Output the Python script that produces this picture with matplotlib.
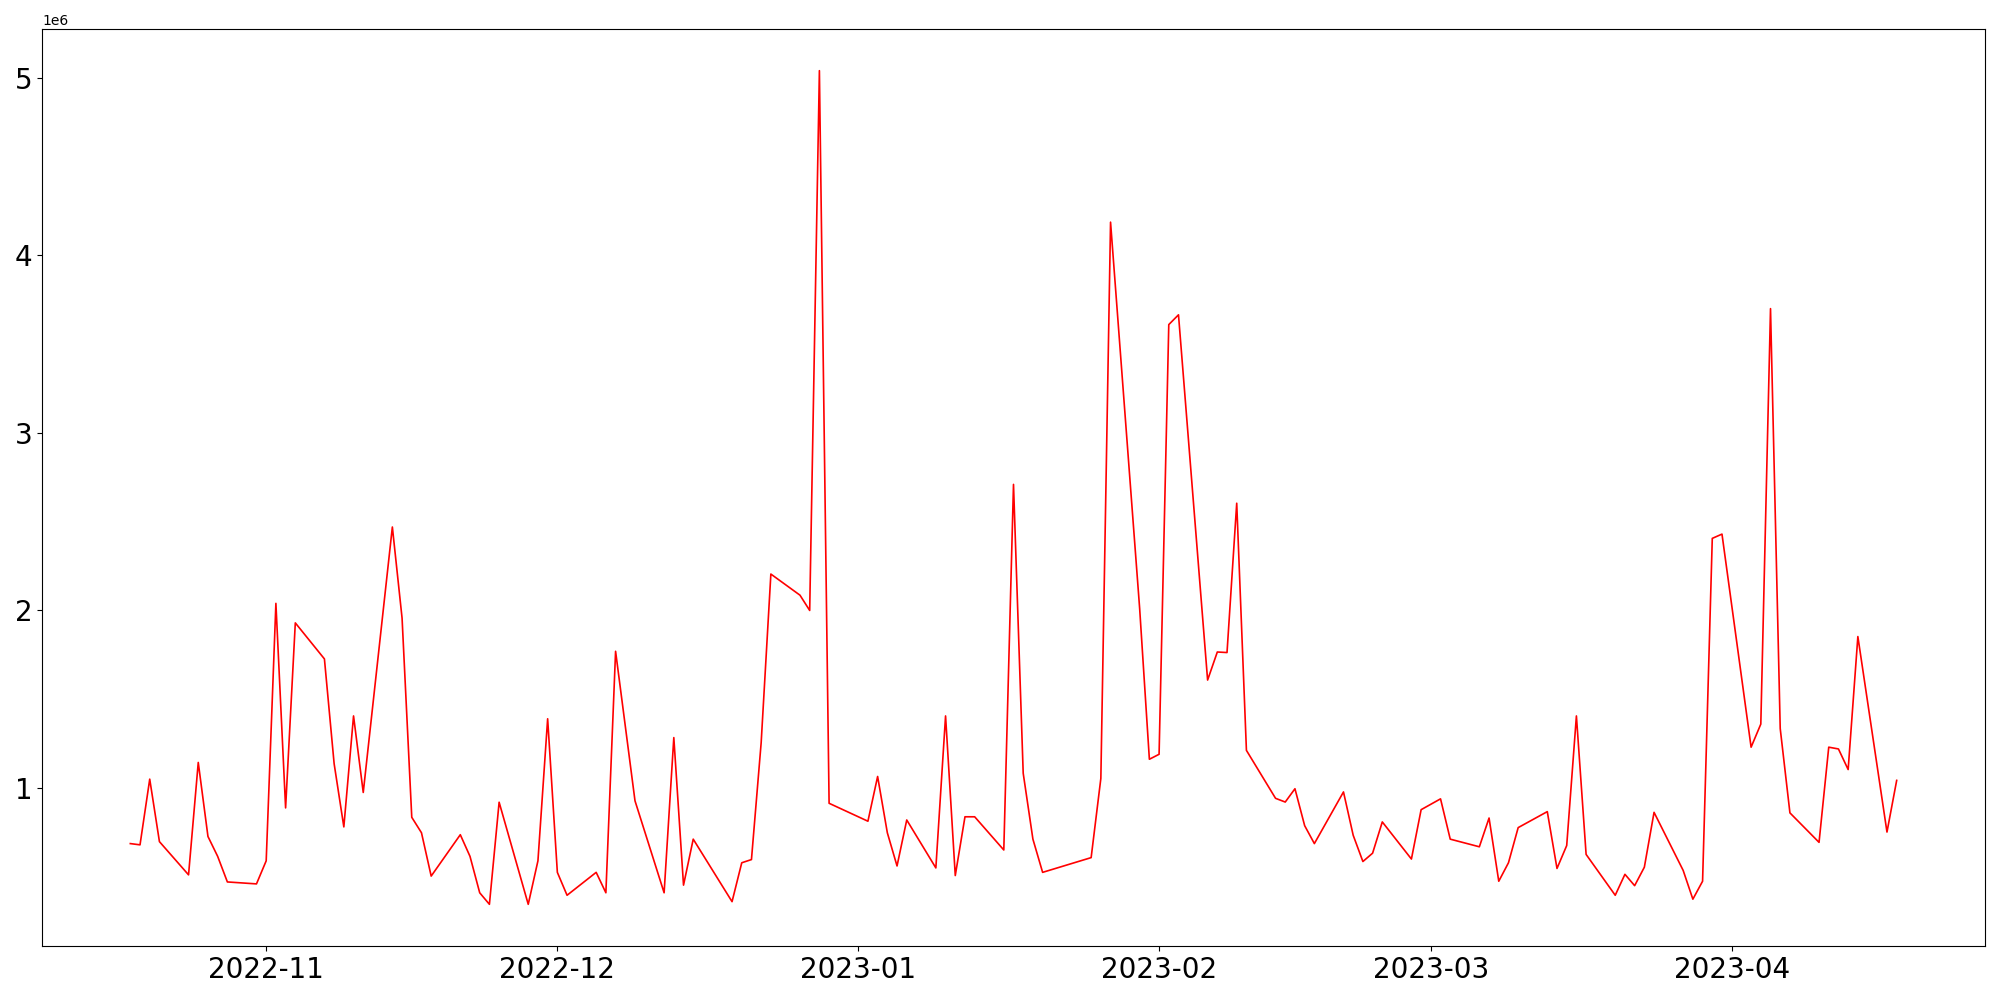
import pandas as pd
import matplotlib
matplotlib.use("Agg")
import matplotlib.pyplot as plt

# trading days (values in millions)
dates = [
    "2022-10-18", "2022-10-19", "2022-10-20", "2022-10-21",
    "2022-10-24", "2022-10-25", "2022-10-26", "2022-10-27", "2022-10-28",
    "2022-10-31", "2022-11-01", "2022-11-02", "2022-11-03", "2022-11-04",
    "2022-11-07", "2022-11-08", "2022-11-09", "2022-11-10", "2022-11-11",
    "2022-11-14", "2022-11-15", "2022-11-16", "2022-11-17", "2022-11-18",
    "2022-11-21", "2022-11-22", "2022-11-23", "2022-11-24", "2022-11-25",
    "2022-11-28", "2022-11-29", "2022-11-30", "2022-12-01", "2022-12-02",
    "2022-12-05", "2022-12-06", "2022-12-07", "2022-12-09",
    "2022-12-12", "2022-12-13", "2022-12-14", "2022-12-15",
    "2022-12-19", "2022-12-20", "2022-12-21", "2022-12-22", "2022-12-23",
    "2022-12-26", "2022-12-27", "2022-12-28", "2022-12-29",
    "2023-01-02", "2023-01-03", "2023-01-04", "2023-01-05", "2023-01-06",
    "2023-01-09", "2023-01-10", "2023-01-11", "2023-01-12", "2023-01-13",
    "2023-01-16", "2023-01-17", "2023-01-18", "2023-01-19", "2023-01-20",
    "2023-01-25", "2023-01-26", "2023-01-27",
    "2023-01-30", "2023-01-31", "2023-02-01", "2023-02-02", "2023-02-03",
    "2023-02-06", "2023-02-07", "2023-02-08", "2023-02-09", "2023-02-10",
    "2023-02-13", "2023-02-14", "2023-02-15", "2023-02-16", "2023-02-17",
    "2023-02-20", "2023-02-21", "2023-02-22", "2023-02-23", "2023-02-24",
    "2023-02-27", "2023-02-28", "2023-03-02", "2023-03-03",
    "2023-03-06", "2023-03-07", "2023-03-08", "2023-03-09", "2023-03-10",
    "2023-03-13", "2023-03-14", "2023-03-15", "2023-03-16", "2023-03-17",
    "2023-03-20", "2023-03-21", "2023-03-22", "2023-03-23", "2023-03-24",
    "2023-03-27", "2023-03-28", "2023-03-29", "2023-03-30", "2023-03-31",
    "2023-04-03", "2023-04-04", "2023-04-05", "2023-04-06", "2023-04-07",
    "2023-04-10", "2023-04-11", "2023-04-12", "2023-04-13", "2023-04-14",
    "2023-04-17", "2023-04-18",
]

values_m = [
    0.687, 0.680, 1.05, 0.698,
    0.511, 1.144, 0.727, 0.615, 0.471,
    0.460, 0.590, 2.04, 0.888, 1.93,
    1.727, 1.137, 0.781, 1.406, 0.975,
    2.47, 1.957, 0.835, 0.748, 0.504,
    0.737, 0.615, 0.41, 0.345, 0.92,
    0.345, 0.59, 1.39, 0.525, 0.396,
    0.525, 0.41, 1.77, 0.928,
    0.41, 1.284, 0.453, 0.712,
    0.36, 0.579, 0.597, 1.255, 2.205,
    2.086, 2.0, 5.04, 0.914,
    0.813, 1.065, 0.748, 0.561, 0.82,
    0.55, 1.406, 0.507, 0.838, 0.838,
    0.651, 2.71, 1.083, 0.712, 0.525,
    0.608, 1.054, 4.187,
    2.01, 1.162, 1.19, 3.61, 3.665,
    1.608, 1.766, 1.763, 2.604, 1.212,
    0.942, 0.921, 0.996, 0.788, 0.687,
    0.978, 0.734, 0.586, 0.633, 0.809,
    0.60, 0.878, 0.939, 0.712,
    0.669, 0.831, 0.475, 0.579, 0.777,
    0.867, 0.547, 0.676, 1.406, 0.626,
    0.396, 0.514, 0.45, 0.554, 0.863,
    0.536, 0.374, 0.475, 2.406, 2.43,
    1.23, 1.36, 3.70, 1.335, 0.86,
    0.694, 1.23, 1.22, 1.104, 1.853,
    0.752, 1.043,
]

x = pd.to_datetime(dates)
y = [v * 1e6 for v in values_m]

fig, ax = plt.subplots(figsize=(20, 10), dpi=100)
ax.plot(x, y, color="red", linewidth=1.2)
ax.tick_params(axis="both", labelsize=20)
fig.subplots_adjust(left=0.021, right=0.9925, top=0.971, bottom=0.054)
fig.savefig("out.png")
